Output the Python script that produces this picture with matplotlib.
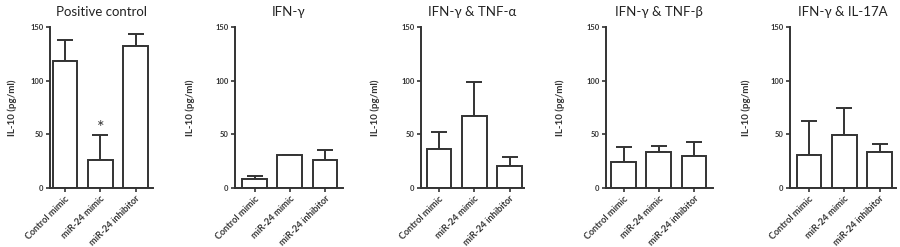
import matplotlib
matplotlib.use("Agg")
import matplotlib.pyplot as plt
import matplotlib.transforms as mtransforms

categories = ["Control mimic", "miR-24 mimic", "miR-24 inhibitor"]
titles = ["Positive control", "IFN-γ", "IFN-γ & TNF-α", "IFN-γ & TNF-β", "IFN-γ & IL-17A"]
means = [
    [118.5, 25.8, 132.5],
    [8.0, 31.0, 25.7],
    [36.4, 67.0, 20.2],
    [23.9, 34.0, 29.4],
    [30.7, 49.3, 34.0],
]
errs = [
    [19.0, 24.0, 11.3],
    [3.5, 0.0, 9.3],
    [15.6, 31.7, 8.8],
    [14.5, 5.3, 13.6],
    [31.6, 25.1, 7.2],
]
yticks = [0, 50, 100, 150]
ylabel = "IL-10 (pg/ml)"

W, H = 900, 247
fig = plt.figure(figsize=(W / 100, H / 100), dpi=100)
plt.rcParams['font.family'] = ['Lato', 'DejaVu Sans']

# layout: pixel centre of first bar, spacing between bars, x-limits
first_c = [65, 254.5, 439, 623.5, 809]
step = 35.3
xlims = [(-0.43, 2.5), (-0.56, 2.5), (-0.51, 2.4), (-0.5, 2.53), (-0.54, 2.46)]
ylab_x = [12, 190, 375, 560, 746]
top_px, bot_px = 27, 188
col = "#333333"
shift = mtransforms.ScaledTranslation(4 / 100, 0, fig.dpi_scale_trans)

for i in range(5):
    lo, hi = xlims[i]
    l = first_c[i] + lo * step
    r = first_c[i] + hi * step
    ax = fig.add_axes([l / W, (H - bot_px) / H, (r - l) / W, (bot_px - top_px) / H])
    x = list(range(len(categories)))
    ax.bar(x, means[i], width=0.7, color="white", edgecolor=col, linewidth=1.4, zorder=2)
    ax.errorbar(x, means[i], yerr=[[0] * 3, errs[i]], fmt="none", ecolor=col,
                elinewidth=1.4, capsize=6, capthick=1.4, zorder=1)
    ax.set_ylim(0, 150)
    ax.set_xlim(lo, hi)
    ax.set_yticks(yticks)
    ax.set_yticklabels([str(t) for t in yticks], fontsize=5.5, fontweight="bold", color=col)
    ax.set_xticks(x)
    labs = ax.set_xticklabels(categories, rotation=45, ha="right", va="top",
                              rotation_mode="anchor", fontsize=6.6, fontweight="bold", color=col)
    for t in labs:
        t.set_transform(t.get_transform() + shift)
    ax.tick_params(axis="both", length=3, width=1.2, color=col, pad=1.5)
    for s in ["top", "right"]:
        ax.spines[s].set_visible(False)
    for s in ["left", "bottom"]:
        ax.spines[s].set_linewidth(1.4)
        ax.spines[s].set_color(col)
    ax.set_title(titles[i], fontsize=9.5, color="#222222", pad=8)
    fig.text(ylab_x[i] / W, (H - 108) / H, ylabel, rotation=90, ha="center", va="center",
             fontsize=7, fontweight="bold", color=col)
    if i == 0:
        ax.text(1, 48, "*", ha="center", va="bottom", fontsize=13, color=col)

fig.savefig("out.png", dpi=100, facecolor="white")
